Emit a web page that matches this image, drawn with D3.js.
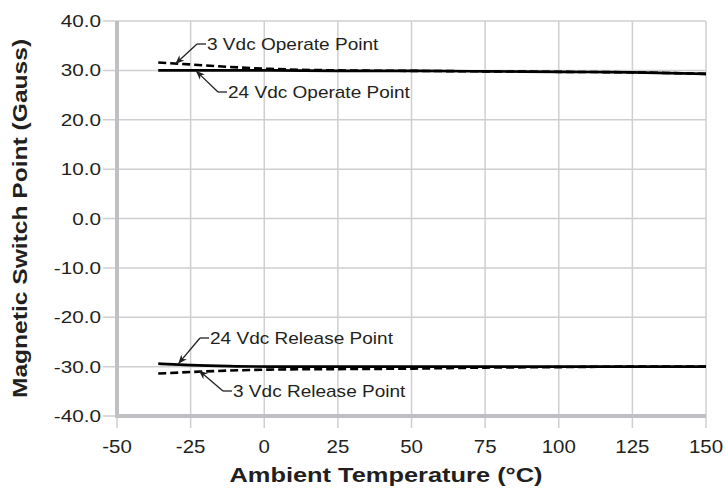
<!DOCTYPE html>
<html>
<head>
<meta charset="utf-8">
<script src="https://cdn.jsdelivr.net/npm/d3@7"></script>
<style>
  body { margin: 0; background: #fff; }
  text { font-family: "Liberation Sans", Arial, sans-serif; fill: #231f20; }
</style>
</head>
<body>
<div id="graph"></div>
<script>
// temperatures (°C)
var temps = [-36, -25, -12, 2, 25, 50, 75, 100, 125, 150];
// switch points (Gauss)
var op3 = [31.6, 31.2, 30.7, 30.3, 30.0, 29.9, 29.8, 29.7, 29.6, 29.3];
var op24 = [30.0, 30.0, 30.0, 30.0, 29.9, 29.9, 29.8, 29.7, 29.6, 29.3];
var rel24 = [-29.4, -29.7, -29.9, -30.0, -30.0, -30.0, -30.0, -30.0, -30.0, -30.0];
var rel3 = [-31.4, -31.1, -30.8, -30.6, -30.5, -30.4, -30.2, -30.1, -30.0, -30.0];

var xTicks = [-50, -25, 0, 25, 50, 75, 100, 125, 150];
var yTicks = [40, 30, 20, 10, 0, -10, -20, -30, -40];

var W = 726, H = 491;
var margin = {top: 21, right: 20, bottom: 75, left: 117};
var width = 706 - margin.left,
    height = 416 - margin.top;

var svg = d3.select("#graph").append("svg")
    .attr("width", W)
    .attr("height", H)
    .append("g")
    .attr("transform", "translate(" + margin.left + "," + margin.top + ")");

var scX = d3.scaleLinear().domain([-50, 150]).range([0, width]);
var scY = d3.scaleLinear().domain([-40, 40]).range([height, 0]);

var fmtY = d => d3.format(".1f")(d).replace("\u2212", "-");
var fmtX = d => String(d);

// text that is a bit wider than Arial, like the original's Helvetica
function label(g, x, y, str, size, sx, anchor, bold, rot) {
    return g.append("text")
        .attr("transform", "translate(" + x + "," + y + ")" +
              (rot ? " rotate(" + rot + ")" : "") + " scale(" + sx + ",1)")
        .attr("text-anchor", anchor)
        .attr("font-size", size + "px")
        .attr("font-weight", bold ? "bold" : null)
        .text(str);
}

// arrow marker
svg.append("defs").append("marker")
    .attr("id", "arr")
    .attr("viewBox", "0 0 10 10")
    .attr("refX", 9).attr("refY", 5)
    .attr("markerWidth", 7).attr("markerHeight", 7)
    .attr("orient", "auto")
    .append("path")
    .attr("d", "M0,1 L10,5 L0,9 L3,5 Z")
    .attr("fill", "#231f20");

// grid
svg.append("g").selectAll("line")
    .data(yTicks)
    .enter().append("line")
    .attr("x1", -14).attr("x2", width)
    .attr("y1", d => scY(d)).attr("y2", d => scY(d))
    .attr("stroke", "#cfcfd1").attr("stroke-width", 1.5);

svg.append("g").selectAll("line")
    .data(xTicks)
    .enter().append("line")
    .attr("x1", d => scX(d)).attr("x2", d => scX(d))
    .attr("y1", 0).attr("y2", height + 12)
    .attr("stroke", "#cfcfd1").attr("stroke-width", 1.5);

// heavy axis lines
svg.append("line")
    .attr("x1", 0).attr("x2", 0).attr("y1", 0).attr("y2", height + 2)
    .attr("stroke", "#bfc0c3").attr("stroke-width", 4);
svg.append("line")
    .attr("x1", -2).attr("x2", width).attr("y1", height).attr("y2", height)
    .attr("stroke", "#bfc0c3").attr("stroke-width", 4);

// tick labels
var gy = svg.append("g");
yTicks.forEach(function (d) {
    label(gy, -16, scY(d) + 6, fmtY(d), 17, 1.22, "end", false);
});
var gx = svg.append("g");
xTicks.forEach(function (d) {
    label(gx, scX(d), height + 37, fmtX(d), 17.5, 1.17, "middle", false);
});

// series
var series = [
    {v: op3, dash: "8,4"},
    {v: op24, dash: null},
    {v: rel24, dash: null},
    {v: rel3, dash: "8,4"}
];
var line = d3.line()
    .x((d, i) => scX(temps[i]))
    .y(d => scY(d))
    .curve(d3.curveMonotoneX);

series.forEach(function (s) {
    svg.append("path")
        .datum(s.v)
        .attr("d", line)
        .attr("fill", "none")
        .attr("stroke", "#000")
        .attr("stroke-width", 2.6)
        .attr("stroke-dasharray", s.dash);
});

// callouts: tip at data coords, elbow & text in px
var notes = [
    {label: "3 Vdc Operate Point", tx: -30, ty: 31.4, ex: 197, ey: 44},
    {label: "24 Vdc Operate Point", tx: -23, ty: 29.8, ex: 218, ey: 92},
    {label: "24 Vdc Release Point", tx: -29, ty: -29.3, ex: 200, ey: 338},
    {label: "3 Vdc Release Point", tx: -22, ty: -30.9, ex: 223, ey: 391}
];
var ga = svg.append("g");
notes.forEach(function (n) {
    var ex = n.ex - margin.left, ey = n.ey - margin.top;
    ga.append("line")
        .attr("x1", ex + 9).attr("y1", ey).attr("x2", ex).attr("y2", ey)
        .attr("stroke", "#231f20").attr("stroke-width", 1.3);
    ga.append("line")
        .attr("x1", ex).attr("y1", ey)
        .attr("x2", scX(n.tx)).attr("y2", scY(n.ty))
        .attr("stroke", "#231f20").attr("stroke-width", 1.3)
        .attr("marker-end", "url(#arr)");
    label(ga, ex + 10, ey + 6, n.label, 17, 1.12, "start", false);
});

// axis titles
label(svg, 386 - margin.left, height + 66, "Ambient Temperature (°C)", 20, 1.27, "middle", true);
label(svg, -90, scY(0), "Magnetic Switch Point (Gauss)", 20.5, 1.2, "middle", true, -90);
</script>
</body>
</html>
